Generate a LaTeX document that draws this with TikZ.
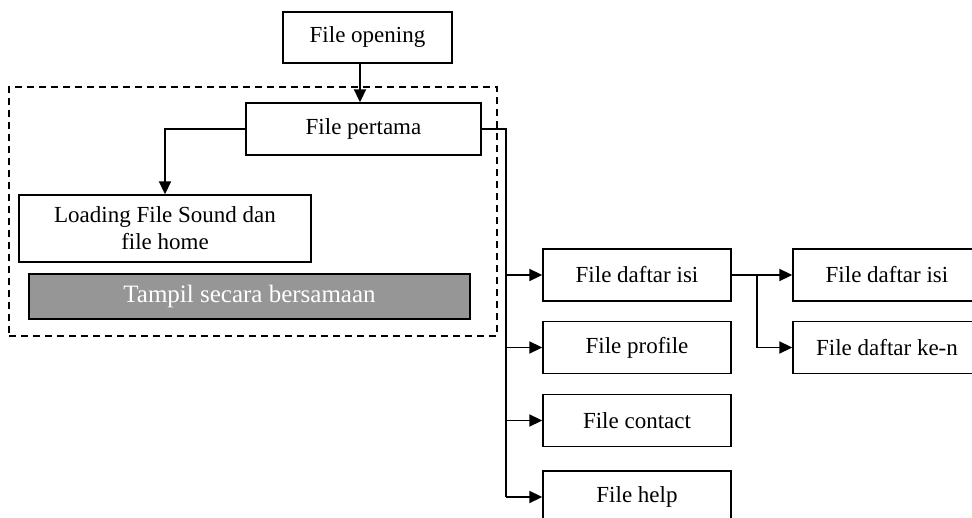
\documentclass[tikz,border=0pt]{standalone}
\usepackage{fontspec}
\setmainfont{Liberation Serif}
\usetikzlibrary{arrows.meta}
\definecolor{shade}{RGB}{150,150,150}

\begin{document}
\begin{tikzpicture}[x=1pt, y=-1pt,
     B/.style = {draw, line width=1.4pt, minimum width=188pt, minimum height=52pt,
                 inner sep=0pt, align=center, font=\fontsize{23}{27}\selectfont},
   lin/.style = {draw, line width=1.9pt},
   arr/.style = {lin, -{Triangle[length=13pt,width=12pt]}}
                    ]
\useasboundingbox (0,0) rectangle (972,518);
\clip (0,0) rectangle (972,518);

\node (grp) [draw, line width=1.4pt, dash pattern=on 7pt off 5pt,
             minimum width=488pt, minimum height=249pt] at (253,211.5) {};

\node (open)     [B, minimum width=169pt, minimum height=51pt] at (367.5,37.5) {File opening};
\node (pertama)  [B, minimum width=235pt] at (363.5,129) {File pertama};
\node (loading)  [B, minimum width=292pt, minimum height=67pt] at (165,228.5)
                 {Loading File Sound dan\\ file home};
\node (tampil)   [B, fill=shade, text=white, minimum width=441pt, minimum height=45pt,
                  font=\fontsize{25}{29}\selectfont] at (249.5,296.5) {Tampil secara bersamaan};

\node (daftar)   [B] at (637,275)   {File daftar isi};
\node (profile)  [B] at (637,347.5) {File profile};
\node (contact)  [B] at (637,420.5) {File contact};
\node (help)     [B] at (637,497)   {File help};

\node (isi)      [B, minimum width=200pt] at (893,275)   {\hspace*{-12pt}File daftar isi};
\node (ken)      [B, minimum width=200pt] at (893,347.5) {\hspace*{-12pt}File daftar ke-n};

\coordinate (t) at (506,0);
\coordinate (b) at (757,0);

\draw[arr] ([xshift=-7.5pt]open.south) -- ([xshift=-3.5pt]pertama.north);
\draw[arr] (pertama.west) -| (loading.north);
\draw[lin] (pertama.east) -| (t |- help);
\foreach \n in {daftar,profile,contact,help}
    \draw[arr] (t |- \n) -- (\n);
\draw[arr] (daftar) -- (isi);
\draw[arr] (b |- daftar) |- (ken);
\end{tikzpicture}
\end{document}
